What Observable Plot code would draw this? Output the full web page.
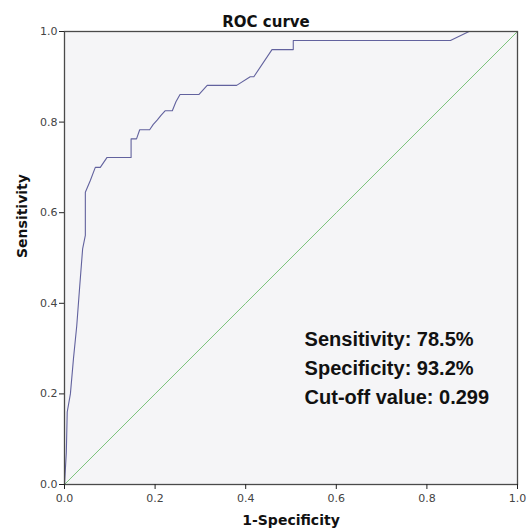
<!DOCTYPE html>
<html><head><meta charset="utf-8">
<script src="https://cdn.jsdelivr.net/npm/d3@7"></script>
<script src="https://cdn.jsdelivr.net/npm/@observablehq/plot@0.6"></script>
<style>
body{margin:0;background:#fff;}
#chart svg{display:block;}
</style></head><body><div id="chart"></div>
<script>
// ROC curve points: 1-Specificity (fpr) and Sensitivity (tpr)
const fpr = [0, 0.004, 0.006, 0.013, 0.020, 0.027, 0.033, 0.040, 0.046, 0.046, 0.057, 0.068, 0.079, 0.094, 0.147, 0.147, 0.159, 0.166, 0.188, 0.196, 0.205, 0.213, 0.222, 0.238, 0.246, 0.255, 0.297, 0.315, 0.380, 0.410, 0.418, 0.458, 0.505, 0.505, 0.852, 0.893, 1.0];
const tpr = [0, 0.070, 0.160, 0.200, 0.280, 0.350, 0.430, 0.520, 0.550, 0.645, 0.671, 0.700, 0.700, 0.722, 0.722, 0.763, 0.763, 0.783, 0.783, 0.795, 0.805, 0.815, 0.825, 0.825, 0.845, 0.861, 0.861, 0.881, 0.881, 0.900, 0.900, 0.960, 0.960, 0.980, 0.980, 1.0, 1.0];
const tickValues = [0, 0.2, 0.4, 0.6, 0.8, 1.0];
const titleText = "ROC curve";
const xLabel = "1-Specificity";
const yLabel = "Sensitivity";
const notes = ["Sensitivity: 78.5%", "Specificity: 93.2%", "Cut-off value: 0.299"];

const roc = fpr.map((x, i) => ({x, y: tpr[i]}));
const fmt = d3.format(".1f");

const chart = Plot.plot({
  width: 531, height: 531,
  marginLeft: 64, marginRight: 14, marginTop: 31, marginBottom: 47,
  style: {background: "#fff", fontFamily: "'DejaVu Sans', sans-serif", fontSize: "11px", color: "#333"},
  x: {domain: [0, 1]},
  y: {domain: [0, 1]},
  marks: [
    Plot.frame({fill: "#f5f5f7", stroke: null}),
    Plot.line(tickValues, {x: d => d, y: d => d, stroke: "#7cc47c", strokeWidth: 1}),
    Plot.line(roc, {x: "x", y: "y", stroke: "#62629e", strokeWidth: 1.1}),
    Plot.frame({stroke: "#4a4a4a", strokeWidth: 1.3}),
    Plot.axisX({ticks: tickValues, tickSize: 5, tickPadding: 5, tickFormat: fmt, label: null, stroke: "#222", fill: "#444"}),
    Plot.axisY({ticks: tickValues, tickSize: 5, tickPadding: 2, tickFormat: fmt, label: null, stroke: "#222", fill: "#444"}),
    Plot.text([titleText], {text: d => d, frameAnchor: "top", dx: -25, dy: -15, fontWeight: "bold", fontSize: 15, fill: "#111"}),
    Plot.text([xLabel], {text: d => d, frameAnchor: "bottom", dy: 40, fontWeight: "bold", fontSize: 14, fill: "#111"}),
    Plot.text([yLabel], {text: d => d, frameAnchor: "left", dx: -42, rotate: -90, fontWeight: "bold", fontSize: 14, fill: "#111"}),
    Plot.text(notes, {text: d => d, x: () => 0.53, y: (d, i) => 0.32 - i * 0.064, textAnchor: "start",
      fontFamily: "'Liberation Sans', Arial, sans-serif", fontWeight: "bold", fontSize: 20, fill: "#111"})
  ]
});
document.getElementById("chart").appendChild(chart);
</script></body></html>
